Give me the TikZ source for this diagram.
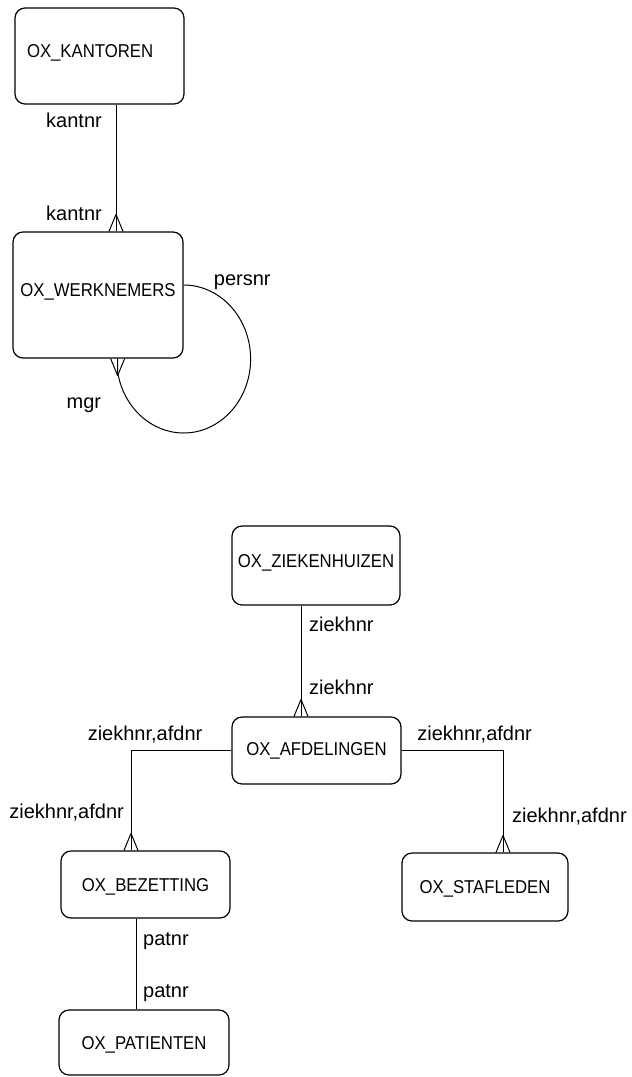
\documentclass[tikz,border=0pt]{standalone}
\usepackage{fontspec}
\setmainfont{Liberation Sans}
\newfontfamily\entfont[FakeStretch=0.9]{Liberation Sans}
\usetikzlibrary{decorations.markings}

\begin{document}
\begin{tikzpicture}[
  x=0.5pt, y=-0.5pt,
  entity/.style={draw, rounded corners=5pt, line width=0.6pt, inner sep=0pt,
    text height=6.6pt, text depth=0pt, font=\entfont\fontsize{9.3}{11}\selectfont},
  lbl/.style={font=\fontsize{10}{12}\selectfont},
  rel/.style={line width=0.5pt},
  crow/.style={postaction={decorate}, decoration={markings, mark=at position 1 with
    {\draw[line width=0.5pt] (-8.5pt,0) -- (0,3.5pt) (-8.5pt,0) -- (0,-3.5pt);}}}
]
\useasboundingbox (0,0) rectangle (632,1077);

% offices and staff
\node[entity, minimum width=84.5pt, minimum height=48pt, inner xsep=6pt, text width=72.5pt,
  align=left, text depth=5pt] (kantoren) at (99.5,56) {OX\_KANTOREN};
\node[entity, minimum width=85pt, minimum height=63pt, text depth=5pt] (werknemers) at (98,295) {OX\_WERKNEMERS};

% hospitals
\node[entity, minimum width=84pt, minimum height=39.5pt, text depth=4.5pt] (ziekenhuizen) at (316,565.5) {OX\_ZIEKENHUIZEN};
\node[entity, minimum width=84.5pt, minimum height=33.5pt, text depth=1.5pt] (afdelingen) at (316.5,750.5) {OX\_AFDELINGEN};
\node[entity, minimum width=84.5pt, minimum height=33.5pt] (bezetting) at (145.5,884.5) {OX\_BEZETTING};
\node[entity, minimum width=83pt, minimum height=34pt] (stafleden) at (485,887) {OX\_STAFLEDEN};
\node[entity, minimum width=85pt, minimum height=32.5pt] (patienten) at (144,1042.5) {OX\_PATIENTEN};

\draw[rel, crow] ([xshift=8.25pt]kantoren.south) -- ([xshift=8.25pt]kantoren.south |- werknemers.north)
  node[lbl, pos=0.125, left=3.5pt] (kantnr1) {kantnr}
  node[lbl, pos=0.86, left=3.5pt] (kantnr2) {kantnr};

\draw[rel, crow] ([yshift=5pt]werknemers.east)
  node[lbl, anchor=base west, xshift=11.6pt] (persnr) {persnr}
  arc[start angle=90, end angle=-170, x radius=33.5pt, y radius=37pt]
  node[lbl, pos=0.89, left=11.5pt] (mgr) {mgr}
  coordinate (mgrend) -- (mgrend |- werknemers.south);

\draw[rel, crow] ([xshift=-7.5pt]ziekenhuizen.south) -- ([xshift=-7.5pt]ziekenhuizen.south |- afdelingen.north)
  node[lbl, pos=0.17, right=0.5pt] (ziekhnr1) {ziekhnr}
  node[lbl, pos=0.74, right=0.5pt] (ziekhnr2) {ziekhnr};

\draw[rel, crow] (afdelingen.west) -| ([xshift=-7.25pt]bezetting.north)
  node[lbl, pos=0.43, above] (afdbez1) {ziekhnr,afdnr}
  node[lbl, pos=0.81, left] (afdbez2) {ziekhnr,afdnr};

\draw[rel, crow] (afdelingen.east) -| ([xshift=9pt]stafleden.north)
  node[lbl, pos=0.36, above] (afdstaf1) {ziekhnr,afdnr}
  node[lbl, pos=0.825, right=1pt] (afdstaf2) {ziekhnr,afdnr};

\draw[rel] ([xshift=-4.75pt]bezetting.south) -- ([xshift=-4.75pt]bezetting.south |- patienten.north)
  node[lbl, pos=0.25, right] (patnr1) {patnr}
  node[lbl, pos=0.82, right] (patnr2) {patnr};
\end{tikzpicture}
\end{document}
